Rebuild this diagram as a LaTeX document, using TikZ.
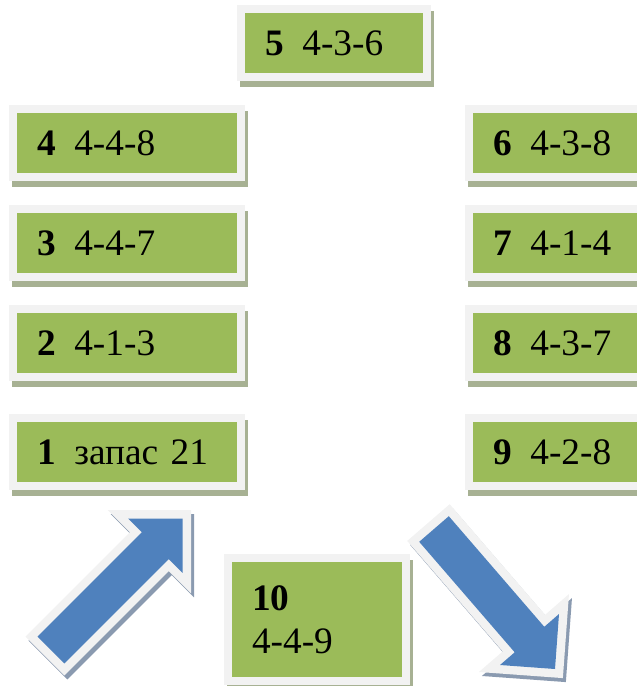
\documentclass[tikz,border=0pt]{standalone}
\usepackage{fontspec}
\setmainfont{Liberation Serif}
\usetikzlibrary{shadows}
\definecolor{cellgreen}{HTML}{9BBB59}
\definecolor{framegrey}{HTML}{F2F2F2}
\definecolor{cellshade}{HTML}{A7B193}
\definecolor{arrowblue}{HTML}{4F81BD}
\definecolor{arrowshade}{HTML}{8A9AB0}
\begin{document}
\begin{tikzpicture}
[
x=0.75pt, y=-0.75pt,
cellbox/.style={rectangle, fill=cellgreen, draw=framegrey, line width=6pt, minimum width=171pt, minimum height=51pt, text width=135pt, align=left, inner xsep=18pt, inner ysep=0pt, font=\fontsize{28}{32}\selectfont, drop shadow={shadow xshift=2.25pt, shadow yshift=-4.5pt, fill=cellshade, draw=cellshade, line width=6pt, opacity=1}},
blockarrow/.style={fill=arrowblue, preaction={fill=arrowshade, draw=arrowshade, line width=12.75pt, transform canvas={shift={(2.25pt,-3pt)}}}, preaction={draw=framegrey, line width=12.75pt}}
]
\useasboundingbox (0,0) rectangle (636,686);
%Nodes
\node[cellbox, minimum width=139.5pt, text width=103.5pt] at(334,43)	(n5) {\textbf{5}\enspace 4-3-6};
\node[cellbox] at(127,143)		(n4) {\textbf{4}\enspace 4-4-8};
\node[cellbox] at(127,243)		(n3) {\textbf{3}\enspace 4-4-7};
\node[cellbox] at(127,343)		(n2) {\textbf{2}\enspace 4-1-3};
\node[cellbox] at(127,452)		(n1) {\textbf{1}\enspace запас 21};
\node[cellbox] at(583,143)		(n6) {\textbf{6}\enspace 4-3-8};
\node[cellbox] at(583,243)		(n7) {\textbf{7}\enspace 4-1-4};
\node[cellbox] at(583,343)		(n8) {\textbf{8}\enspace 4-3-7};
\node[cellbox] at(583,452)		(n9) {\textbf{9}\enspace 4-2-8};
\node[cellbox, minimum width=133.5pt, text width=97.5pt, minimum height=92.25pt] at(317,619.5)	(n10) {\textbf{10}\\4-4-9};
%Arrows
\path[blockarrow] (37.6,636.6) -- (141.9,532.3) -- (128.1,518.5) -- (182.5,518.5) -- (182.5,572.9) -- (168.7,559.1) -- (64.4,663.4) -- cycle;
\path[blockarrow] (448.8,516.2) -- (544.3,626.8) -- (559,614) -- (555,669) -- (500,665) -- (514.7,652.3) -- (419.2,541.8) -- cycle;

\end{tikzpicture}
\end{document}
